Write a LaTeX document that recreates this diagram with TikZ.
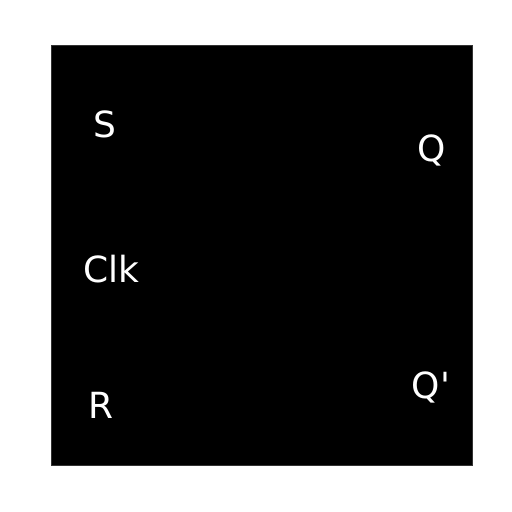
\documentclass[tikz,border=0pt]{standalone}
\usepackage{fontspec}
\setmainfont{DejaVu Sans}
\definecolor{edgegray}{HTML}{333333}
\tikzset{
    pin/.style={text=white, anchor=base, inner sep=0pt, font=\fontsize{36}{43}\selectfont}
}
\begin{document}
\begin{tikzpicture}[x=1pt, y=-1pt]
    \useasboundingbox[fill=white] (0,0) rectangle (512,512);

    % flip-flop body
    \draw[edgegray, line width=1pt, fill=black] (51,45) rectangle (472,465);

    % inputs
    \node[pin] (s) at (105,137) {S};
    \node[pin] (clk) at (111,282) {Clk};
    \node[pin] (r) at (101,418) {R};

    % outputs
    \node[pin] (q) at (432,161) {Q};
    \node[pin] (qbar) at (431,398) {Q\textquotesingle};
\end{tikzpicture}
\end{document}
